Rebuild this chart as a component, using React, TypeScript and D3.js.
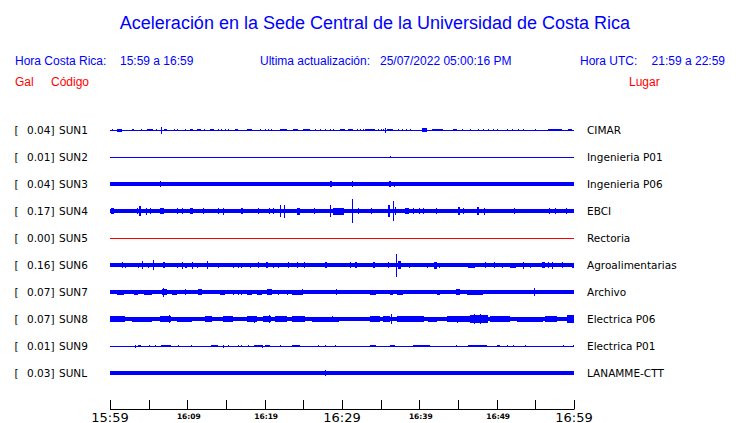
import React from "react";
import * as d3 from "d3";

// ---------- data ----------
const stationCodes = ["SUN1", "SUN2", "SUN3", "SUN4", "SUN5", "SUN6", "SUN7", "SUN8", "SUN9", "SUNL"];
const peakValues = ["0.04", "0.01", "0.04", "0.17", "0.00", "0.16", "0.07", "0.07", "0.01", "0.03"];
const placeNames = ["CIMAR", "Ingenieria P01", "Ingenieria P06", "EBCI", "Rectoria", "Agroalimentarias", "Archivo", "Electrica P06", "Electrica P01", "LANAMME-CTT"];
// background noise half-amplitude of each trace
const noiseLevels = [0.5, 0.5, 2.0, 2.3, 0.5, 1.8, 1.8, 2.2, 0.5, 1.6];
const traceColors = ["blue", "blue", "blue", "blue", "red", "blue", "blue", "blue", "blue", "blue"];

// events: [minute after 15:59, half amplitude, duration in minutes]
type Ev = [number, number, number?];
const sun1Events: Ev[] = [
  [0.2, 1], [0.9, 1.5, 0.6], [2.8, 1.2, 0.35], [4.0, 1], [4.75, 1.3, 0.85], [5.9, 1], [6.6, 3.5], [7.0, 1.3, 0.35],
  [8.3, 1], [8.6, 1.2], [9.7, 1], [10.35, 1.3, 0.4], [11.3, 1.3, 0.5], [12.15, 1], [12.95, 1.3, 0.45],
  [14.0, 1], [14.35, 1], [14.9, 1], [15.25, 1], [16.2, 1.2, 0.4], [17.7, 1.3, 0.6], [19.4, 1.2], [20.0, 1.2],
  [20.4, 1.2], [20.8, 1.2], [22.0, 1.4, 0.85], [23.65, 1.3, 0.65], [24.95, 1.2, 0.9], [26.5, 1.2], [27.15, 1.2],
  [27.8, 1.2], [28.45, 1.2], [28.85, 1.2], [29.75, 1.3, 0.6], [30.8, 1.3, 0.6], [31.95, 1], [32.3, 1], [32.7, 1],
  [33.0, 1.3, 1.3], [34.65, 1], [35.05, 1], [35.3, 1], [35.55, 2.5], [35.8, 1.3, 0.75], [37.25, 1.2], [37.75, 1.2],
  [38.3, 1.2], [38.8, 1.2], [40.35, 2, 0.65], [41.65, 1.2, 1.4], [44.35, 1.3, 0.5], [45.5, 1], [46.55, 1],
  [47.6, 1], [48.25, 1], [48.9, 1], [49.55, 1], [50.05, 1], [51.35, 1], [52.0, 1], [52.75, 1], [53.4, 1],
  [55.0, 1], [56.65, 1.3, 1.8], [59.2, 1.3, 0.6],
];
const sun2Events: Ev[] = [[36.2, 1.4, 0.2]];
const sun3Events: Ev[] = [[6.5, 2.8], [28.45, 2.8, 0.3], [31.25, 2.8], [36.1, 3.2, 0.2], [36.75, 2.5]];
const sun4Events: Ev[] = [
  [0.15, 3, 0.4], [3.45, 3], [3.8, 5.3, 0.15], [4.7, 3.5], [5.15, 3], [6.45, 3, 0.55], [8.6, 2.8], [9.35, 2.8],
  [10.35, 3.2, 0.4], [12.05, 2.8], [14.0, 2.8], [14.65, 3.5], [17.0, 2.8, 0.15], [19.1, 3, 0.1], [20.6, 2.8],
  [21.1, 2.8], [22.0, 6], [22.55, 6.5], [24.15, 3.5, 0.45], [26.4, 2.8], [28.45, 6], [28.8, 3.5, 1.5],
  [31.25, 12], [32.1, 2.8], [33.7, 3.2], [36.0, 6, 0.25], [36.65, 10], [36.8, 4, 0.2], [38.15, 3.3, 0.45],
  [39.15, 2.8], [40.0, 2.8], [40.5, 2.8], [42.15, 3], [45.05, 4.3, 0.25], [45.6, 2.8], [47.4, 3.8, 0.35],
  [48.35, 3.5], [52.25, 2.6], [56.8, 2.8], [57.55, 2.6], [58.95, 2.7],
];
const sun5Events: Ev[] = [];
const sun6Events: Ev[] = [
  [0.1, 2, 0.75], [1.6, 3], [1.95, 2.5], [2.6, 2.3], [3.0, 2.3], [3.6, 2.5], [4.2, 4], [4.95, 2.5], [5.6, 5.3],
  [6.9, 3, 0.25], [7.5, 2.3, 0.65], [8.6, 2.5], [9.3, 3.5], [9.7, 2.5, 0.2], [10.55, 3.5], [11.2, 2.5], [12.5, 4],
  [14.0, 2.5], [15.95, 2.5], [16.5, 2.5], [17.0, 2.5], [18.1, 2.5], [19.2, 3.2], [20.2, 2.8, 0.25], [21.1, 2.5],
  [21.7, 2.5], [23.05, 2.8], [24.15, 3], [25.1, 2.8], [26.7, 2.3], [27.75, 2.8, 0.3], [28.9, 2, 0.65],
  [31.05, 2.8], [31.7, 3, 0.3], [34.05, 3, 0.2], [34.85, 2, 1.8], [36.0, 2.8], [36.95, 11.5], [37.3, 4, 0.35],
  [38.7, 2.5], [41.05, 2.5], [41.9, 3.5, 0.35], [42.6, 2.5], [43.75, 2, 2.15], [46.35, 2.5, 0.85], [48.5, 3],
  [49.65, 3], [50.65, 2.5], [51.7, 2.5, 0.85], [53.35, 3.5], [54.3, 2.5], [55.85, 3, 0.45], [56.7, 2.8],
  [57.1, 3.5], [58.4, 3.3], [59.7, 2.5, 0.3],
];
const sun7Events: Ev[] = [
  [0.1, 2], [0.85, 2.5, 1.0], [3.15, 2.5, 0.45], [4.45, 2.5, 0.95], [6.7, 3, 0.65], [6.9, 4.5], [8.0, 2.5, 0.65],
  [9.7, 3], [11.35, 3, 0.6], [14.2, 2.5, 0.65], [15.95, 2.5], [16.5, 2.5], [17.0, 2.5], [17.7, 2.5, 0.65],
  [19.0, 2.5, 0.65], [20.35, 3, 0.55], [21.75, 2.5], [22.85, 2.5, 0.2], [23.5, 2.5, 1.5], [24.8, 3],
  [25.85, 2, 0.85], [27.4, 2.3, 2.15], [29.2, 3], [33.6, 2.5, 0.85], [34.9, 2.3, 0.65], [36.2, 2.5, 0.4],
  [37.1, 2.5, 0.85], [38.6, 2.3, 0.65], [39.85, 2.3], [40.5, 2.3], [41.15, 2.3], [41.6, 2.3, 0.2],
  [42.25, 2.5, 0.4], [43.1, 2.3], [44.75, 3.3, 0.5], [46.1, 2.5, 2.15], [48.9, 2.3, 1.3], [50.65, 2.3, 1.05],
  [52.15, 2.3], [52.8, 2.3], [53.45, 2.3], [54.85, 4], [55.6, 2.3, 1.7], [58.0, 2.2], [58.6, 2.2], [59.25, 2.2],
  [59.7, 2.2],
];
const sun8Events: Ev[] = [
  [0.0, 2.8, 1.95], [2.8, 2.5, 2.6], [6.45, 3.2, 1.5], [7.65, 4.3], [8.6, 2.5, 1.95], [12.3, 2.8, 0.85],
  [14.65, 3, 1.3], [17.7, 3, 1.3], [18.6, 3.5], [19.8, 3.2, 1.05], [20.5, 4], [21.35, 2.7, 1.5], [23.5, 2.7, 1.7],
  [26.1, 2.5, 3.45], [28.65, 3], [33.6, 2.8, 1.3], [35.3, 3, 0.9], [36.4, 4.8], [37.1, 3, 3.45],
  [41.15, 2.5, 1.1], [43.55, 2.8, 3.0], [44.85, 3.5], [46.55, 3.8, 2.35], [47.1, 4.8], [47.9, 4.8],
  [49.15, 2.8, 2.6], [52.6, 2.5, 3.45], [56.25, 3, 1.5], [59.05, 3.7, 0.95],
];
const sun9Events: Ev[] = [
  [3.25, 1.5], [3.65, 1.2, 0.4], [5.05, 1.2], [5.8, 1.2], [6.6, 1.2, 1.35], [6.9, 1.4], [7.75, 1.4], [8.85, 1.2],
  [10.5, 1.2], [13.05, 1.3, 0.95], [14.65, 1.5], [15.3, 1.2], [16.5, 1.2], [17.0, 1.2], [17.9, 1.3],
  [18.6, 1.3, 1.0], [19.6, 1.5], [20.05, 1.3, 0.65], [22.0, 1.2], [23.5, 1.2, 1.05], [26.95, 1.3], [27.8, 1.2],
  [29.1, 1.2], [33.6, 1.3, 0.85], [36.2, 1.2, 0.65], [39.2, 1.3, 2.15], [44.8, 1.2], [46.35, 1.3, 2.4],
  [50.0, 1.2, 0.45], [51.3, 1.2], [52.15, 1.2], [53.65, 1.2], [58.6, 1.2], [59.85, 1.2],
];
const sunLEvents: Ev[] = [[11.85, 2.2], [27.8, 2.6], [40.1, 2], [45.9, 2], [55.2, 2]];
const traceEvents: Ev[][] = [sun1Events, sun2Events, sun3Events, sun4Events, sun5Events, sun6Events, sun7Events, sun8Events, sun9Events, sunLEvents];

// time axis
const tickMinutes = d3.range(0, 61, 5);
const axisLabels: [number, string, boolean][] = [
  [0, "15:59", true], [10, "16:09", false], [20, "16:19", false], [30, "16:29", true],
  [40, "16:39", false], [50, "16:49", false], [60, "16:59", true],
];

const titleText = "Aceleración en la Sede Central de la Universidad de Costa Rica";

// ---------- layout ----------
const W = 740, H = 423;
const x = d3.scaleLinear().domain([0, 60]).range([110, 574]);
const rowY = d3.scaleLinear().domain([0, 9]).range([130, 373]);
const amp = d3.scaleLinear().domain([0, 10]).range([0, 10]);

const sans = "'Liberation Sans', Arial, sans-serif";
const deja = "'DejaVu Sans', sans-serif";

function tracePath(i: number): string {
  const p = d3.path();
  const y0 = rowY(i);
  const n = Math.max(0.5, amp(noiseLevels[i]));
  p.rect(x(0), y0 - n, x(60) - x(0), 2 * n);
  for (const [m, a, w] of traceEvents[i]) {
    const x0 = x(m);
    const x1 = Math.max(x0 + 1, x(m + (w || 0)));
    const h = amp(a);
    p.rect(x0, y0 - h, x1 - x0, 2 * h);
  }
  return p.toString();
}

export default function App() {
  return (
    <svg width={W} height={H} style={{ position: "absolute", left: 0, top: 0, background: "white" }}>
      <text x={375} y={28.5} textAnchor="middle" fontFamily={sans} fontSize={18} fill="blue">{titleText}</text>

      <g fontFamily={sans} fontSize={12} fill="blue">
        <text x={15} y={64.5}>Hora Costa Rica:</text>
        <text x={120} y={64.5}>15:59 a 16:59</text>
        <text x={260} y={64.5}>Ultima actualización:</text>
        <text x={380} y={64.5}>25/07/2022 05:00:16 PM</text>
        <text x={580} y={64.5}>Hora UTC:</text>
        <text x={725} y={64.5} textAnchor="end">21:59 a 22:59</text>
      </g>
      <g fontFamily={sans} fontSize={12} fill="red">
        <text x={15} y={85.5}>Gal</text>
        <text x={51} y={85.5}>Código</text>
        <text x={629} y={85.5}>Lugar</text>
      </g>

      {stationCodes.map((code, i) => (
        <g key={code} fontFamily={deja} fontSize={10.5} fill="black">
          <text x={14.5} y={rowY(i) + 4}>[</text>
          <text x={54.5} y={rowY(i) + 4} textAnchor="end">{peakValues[i]}]</text>
          <text x={59} y={rowY(i) + 4}>{code}</text>
          <text x={587} y={rowY(i) + 4}>{placeNames[i]}</text>
          <path d={tracePath(i)} fill={traceColors[i]} shapeRendering="crispEdges" />
        </g>
      ))}

      <g>
        <line x1={x(0)} x2={x(60)} y1={409.5} y2={409.5} stroke="black" strokeWidth={1} />
        {tickMinutes.map((m) => (
          <line key={m} x1={Math.round(x(m)) + 0.5} x2={Math.round(x(m)) + 0.5} y1={400} y2={409.5} stroke="black" strokeWidth={1} />
        ))}
        {axisLabels.map(([m, label, big]) => (
          <text key={label} x={x(m) + (big ? 0 : 1.5)} y={big ? 421.5 : 418.5} textAnchor="middle"
            fontFamily={deja} fontSize={big ? 13 : 7.5} fontWeight={big ? "normal" : "bold"} fill="black">
            {label}
          </text>
        ))}
      </g>
    </svg>
  );
}
